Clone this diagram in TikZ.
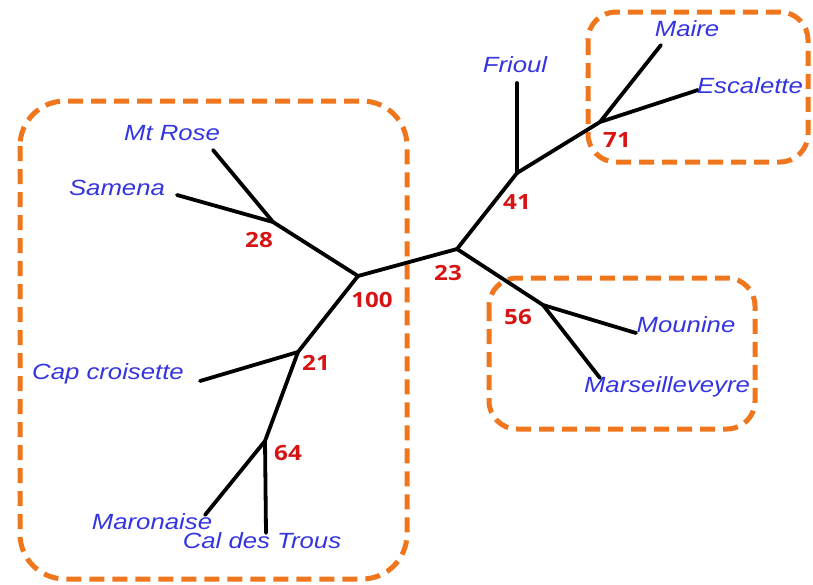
\documentclass[tikz,border=0pt]{standalone}
\usepackage{fontspec}
\newfontfamily\labfont[FakeStretch=1.17]{Liberation Sans}
\newfontfamily\numfont[FakeStretch=1.15]{Open Sans}
\definecolor{labblue}{RGB}{52,52,225}
\definecolor{numred}{RGB}{215,20,20}
\definecolor{boxorange}{RGB}{240,118,30}
\tikzset{
  branch/.style={line width=3.8pt, black, line cap=round},
  lab/.style={font=\labfont\itshape\fontsize{22}{24}\selectfont, text=labblue, inner sep=0pt},
  num/.style={font=\numfont\bfseries\fontsize{21}{23}\selectfont, text=numred, inner sep=0pt},
  grp/.style={draw=boxorange, line width=5pt, dash pattern=on 15pt off 8pt}
}
\begin{document}
\begin{tikzpicture}[x=1pt,y=-1pt]
\useasboundingbox (0,0) rectangle (813,584);
% dashed group boxes
\draw[grp, rounded corners=45pt] (20,101) rectangle (407,579);
\draw[grp, rounded corners=28pt] (588,12) rectangle (808,162);
\draw[grp, rounded corners=28pt] (489,278) rectangle (755,429);
% internal nodes
\coordinate (n100) at (358,276);
\coordinate (n28) at (273,222);
\coordinate (n21) at (298,352);
\coordinate (n64) at (265,441);
\coordinate (n23) at (457,249);
\coordinate (n56) at (543,305);
\coordinate (n41) at (517,173);
\coordinate (n71) at (600,122);
% tips
\coordinate (tMtRose) at (213,150);
\coordinate (tSamena) at (177,195);
\coordinate (tCap) at (200,381);
\coordinate (tMaro) at (205,515);
\coordinate (tCal) at (266,533);
\coordinate (tMoun) at (636,333);
\coordinate (tMars) at (600,378);
\coordinate (tFrioul) at (517,83);
\coordinate (tMaire) at (661,45);
\coordinate (tEsc) at (698,90);
% branches
\draw[branch] (n100) -- (n23);
\draw[branch] (n100) -- (n28);
\draw[branch] (n28) -- (tMtRose);
\draw[branch] (n28) -- (tSamena);
\draw[branch] (n100) -- (n21);
\draw[branch] (n21) -- (tCap);
\draw[branch] (n21) -- (n64);
\draw[branch] (n64) -- (tMaro);
\draw[branch] (n64) -- (tCal);
\draw[branch] (n23) -- (n56);
\draw[branch] (n56) -- (tMoun);
\draw[branch] (n56) -- (tMars);
\draw[branch] (n23) -- (n41);
\draw[branch] (n41) -- (tFrioul);
\draw[branch] (n41) -- (n71);
\draw[branch] (n71) -- (tMaire);
\draw[branch] (n71) -- (tEsc);
% leaf labels
\node[lab] (lMtRose) at (172,133) {Mt Rose};
\node[lab] (lSamena) at (117,188) {Samena};
\node[lab] (lCap) at (108,374) {Cap croisette};
\node[lab] (lMaro) at (152,522) {Maronaise};
\node[lab] (lCal) at (262,541) {Cal des Trous};
\node[lab] (lFrioul) at (515,65) {Frioul};
\node[lab] (lMaire) at (687,29) {Maire};
\node[lab] (lEsc) at (750,86) {Escalette};
\node[lab] (lMoun) at (686,325) {Mounine};
\node[lab] (lMars) at (667,387) {Marseilleveyre};
% bootstrap values
\node[num] (b28) at (259,240) {28};
\node[num] (b100) at (372,300) {100};
\node[num] (b21) at (316,363) {21};
\node[num] (b64) at (288,453) {64};
\node[num] (b23) at (448,273) {23};
\node[num] (b56) at (518,317) {56};
\node[num] (b41) at (517,202) {41};
\node[num] (b71) at (617,140) {71};
\end{tikzpicture}
\end{document}
